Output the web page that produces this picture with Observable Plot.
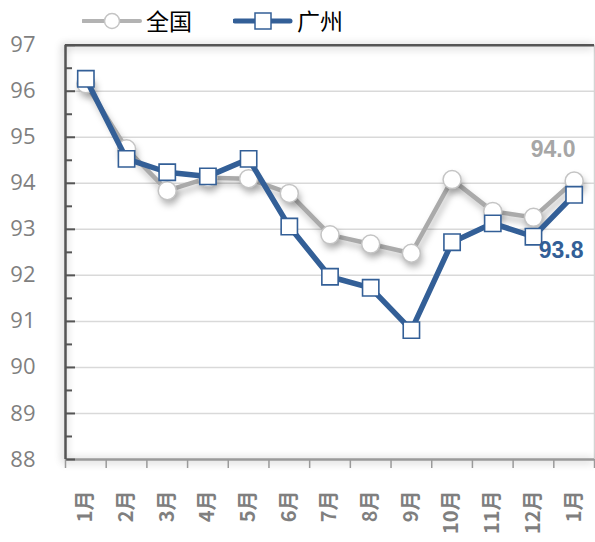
<!DOCTYPE html>
<html>
<head>
<meta charset="utf-8">
<script src="https://cdn.jsdelivr.net/npm/d3@7"></script>
<script src="https://cdn.jsdelivr.net/npm/@observablehq/plot@0.6"></script>
<style>
  html, body { margin: 0; padding: 0; background: #fff; }
  #wrap { position: relative; width: 595px; height: 542px; overflow: hidden; }
  #legend { position: relative; height: 36px; width: 595px; font-family: "Noto Sans CJK SC", sans-serif; font-size: 23px; color: #000; }
  .item { position: absolute; top: 0; height: 36px; display: flex; align-items: center; }
  .item svg { display: block; }
  .item span { margin-left: 4px; line-height: 36px; }
</style>
</head>
<body>
<div id="wrap">
  <div id="legend"></div>
  <div id="chart"></div>
</div>
<script>
// ---- data ----
const months = ["1月","2月","3月","4月","5月","6月","7月","8月","9月","10月","11月","12月","1月"];
const national = [96.16, 94.75, 93.84, 94.12, 94.1, 93.78, 92.88, 92.68, 92.48, 94.08, 93.39, 93.26, 94.05];
const guangzhou = [96.27, 94.53, 94.24, 94.15, 94.53, 93.06, 91.97, 91.73, 90.81, 92.72, 93.13, 92.84, 93.75];
const seriesNames = ["全国", "广州"];
const endLabels = ["94.0", "93.8"];
const yTicks = [88, 89, 90, 91, 92, 93, 94, 95, 96, 97];
const yMinor = [88.5, 89.5, 90.5, 91.5, 92.5, 93.5, 94.5, 95.5, 96.5];

const grayLine = "#aaaaaa";
const grayDot = "#c4c4c4";
const blue = "#335f97";

const natData = national.map((v, i) => ({i, v}));
const gzData = guangzhou.map((v, i) => ({i, v}));
const idx = months.map((m, i) => i);
const bounds = months.map((m, i) => i - 0.5).concat([months.length - 0.5]);
const last = months.length - 1;

// ---- legend ----
const legend = document.getElementById("legend");
legend.innerHTML = `
  <div class="item" style="left:82px">
    <svg width="60" height="36"><line x1="1" y1="21" x2="58" y2="21" stroke="#b3b3b3" stroke-width="4" stroke-linecap="round"/>
    <circle cx="30" cy="21" r="7.5" fill="#fff" stroke="${grayDot}" stroke-width="1.5"/></svg>
    <span style="position:relative;top:2px">${seriesNames[0]}</span>
  </div>
  <div class="item" style="left:233px">
    <svg width="60" height="36"><line x1="2" y1="21" x2="57" y2="21" stroke="${blue}" stroke-width="5" stroke-linecap="round"/>
    <rect x="22" y="13" width="16" height="16" fill="#fff" stroke="${blue}" stroke-width="1.5"/></svg>
    <span style="position:relative;top:2px">${seriesNames[1]}</span>
  </div>`;

// ---- chart ----
const chart = Plot.plot({
  width: 595,
  height: 506,
  marginTop: 8.7,
  marginBottom: 83,
  marginLeft: 65,
  marginRight: 1,
  style: {background: "transparent", overflow: "visible"},
  x: {type: "linear", domain: [-0.5, months.length - 0.5], axis: null},
  y: {domain: [88, 97], axis: null},
  marks: [
    // gridlines
    Plot.ruleY(yTicks.filter(t => t > 88 && t < 97), {stroke: "#d9d9d9", strokeWidth: 1.5}),
    // frame
    Plot.ruleX([months.length - 0.5], {stroke: "#d4d4d4", strokeWidth: 1.5}),
    Plot.ruleY([97], {stroke: "#555", strokeWidth: 2.5}),
    Plot.ruleY([88], {stroke: "#9a9a9a", strokeWidth: 2.5}),
    Plot.ruleX([-0.5], {stroke: "#555", strokeWidth: 2.5}),
    // y axis: major inward ticks + labels
    Plot.axisY(yTicks, {
      anchor: "left", label: null, tickSize: -10, tickPadding: 40, stroke: "#555", strokeWidth: 2,
      fontSize: 22, fontFamily: "Open Sans", fill: "#7f7f7f", tickFormat: d => String(d)
    }),
    Plot.axisY(yMinor, {anchor: "left", label: null, tickSize: -7, stroke: "#555", strokeWidth: 2, tickFormat: () => ""}),
    // x axis boundary ticks
    Plot.axisX(bounds, {anchor: "bottom", label: null, tickSize: 9, stroke: "#9a9a9a", strokeWidth: 1.5, tickFormat: () => ""}),
    // x labels
    Plot.axisX(idx, {
      anchor: "bottom", label: null, tickSize: 0, tickPadding: 31, tickRotate: -90,
      tickFormat: i => months[i], fontSize: 20, fontWeight: "bold",
      fontFamily: "Noto Sans CJK SC", fill: "#7f7f7f"
    }),
    // national series
    Plot.line(natData, {x: "i", y: "v", stroke: grayLine, strokeWidth: 4.5}),
    Plot.dot(natData, {x: "i", y: "v", r: 9, fill: "#fff", stroke: grayDot, strokeWidth: 1.5}),
    // guangzhou series
    Plot.line(gzData, {x: "i", y: "v", stroke: blue, strokeWidth: 5.5}),
    Plot.dot(gzData, {x: "i", y: "v", r: 9.2, symbol: "square", fill: "#fff", stroke: blue, strokeWidth: 1.6}),
    // end labels
    Plot.text([natData[last]], {x: "i", y: "v", text: () => endLabels[0], dx: -21, dy: -31,
      fill: "#a6a6a6", fontSize: 23, fontWeight: "bold", fontFamily: "Liberation Sans"}),
    Plot.text([gzData[last]], {x: "i", y: "v", text: () => endLabels[1], dx: -13, dy: 56,
      fill: blue, fontSize: 23, fontWeight: "bold", fontFamily: "Liberation Sans"})
  ]
});

// soft shadows on the national series and the frame
const lines = chart.querySelectorAll('g[aria-label="line"]');
const dots = chart.querySelectorAll('g[aria-label="dot"]');
const shadow = "drop-shadow(2px 5px 3px rgba(0,0,0,0.25))";
if (lines[0]) lines[0].style.filter = shadow;
if (dots[0]) dots[0].style.filter = shadow;
const rules = chart.querySelectorAll('g[aria-label="rule"]');
[2, 3, 4].forEach(k => { if (rules[k]) rules[k].style.filter = "drop-shadow(-1px 1px 4px rgba(0,0,0,0.35))"; });
document.getElementById("chart").appendChild(chart);
</script>
</body>
</html>
